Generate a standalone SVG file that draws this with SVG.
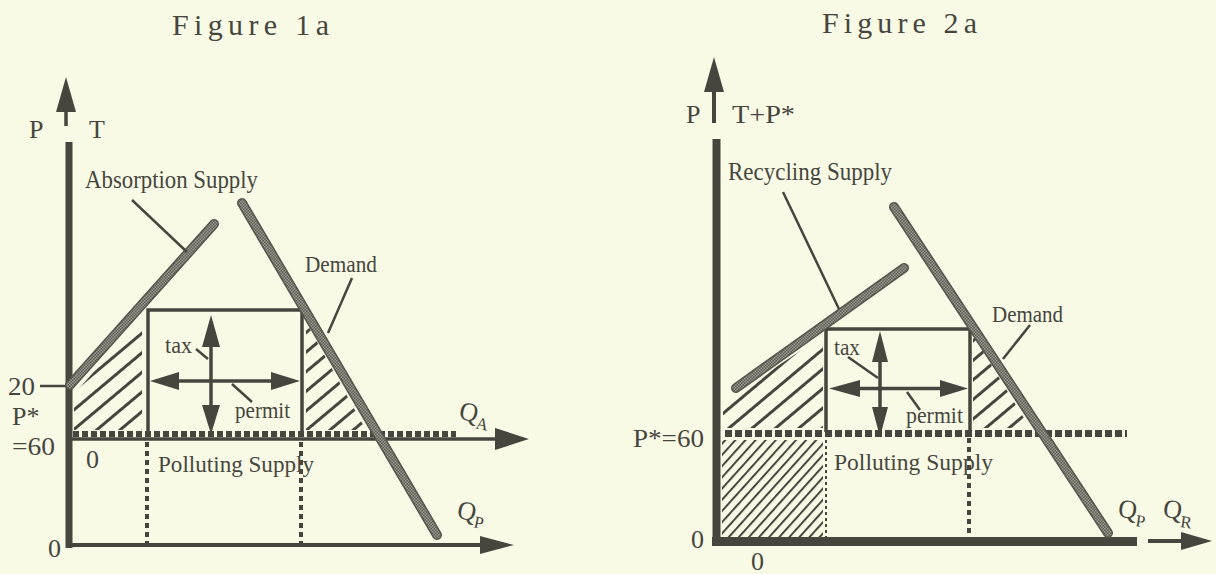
<svg xmlns="http://www.w3.org/2000/svg" width="1216" height="574" viewBox="0 0 1216 574">
<style>
.t{font-family:"Liberation Serif","Times New Roman",serif;fill:#46463e}
.ttl{font-size:30px}
.lb{font-size:26px}
.sm{font-size:23px}
.ax{stroke:#46463e;fill:none}
.ink{fill:#46463e}
.ld{stroke:#46463e;stroke-width:2.5;fill:none}
.curveo{stroke:#55554d;stroke-width:10;stroke-linecap:round;fill:none}
.curvei{stroke:url(#chk);stroke-width:7;stroke-linecap:round;fill:none}
</style>
<defs>
<pattern id="chk" width="3" height="3" patternUnits="userSpaceOnUse"><rect width="3" height="3" fill="#5a5a52"/><rect width="1.5" height="1.5" fill="#9d9d94"/><rect x="1.5" y="1.5" width="1.5" height="1.5" fill="#9d9d94"/></pattern>
<pattern id="hatch" width="20" height="15" patternUnits="userSpaceOnUse" patternTransform="rotate(-40)"><rect width="20" height="3" fill="#46463e"/></pattern>
<pattern id="hatch2" width="10" height="7.5" patternUnits="userSpaceOnUse" patternTransform="rotate(-48)"><rect width="10" height="2" fill="#46463e"/></pattern>
</defs>
<rect width="1216" height="574" fill="#f9fae6"/>

<!-- Figure 1a -->
<g id="fig1a">
<text class="t ttl" x="172" y="35" textLength="157" lengthAdjust="spacing">Figure 1a</text>
<g id="f1-hatch">
<polygon points="74,430 74,394 142,318 142,430" fill="url(#hatch)"/>
<polygon points="306,322 306,430 366,430" fill="url(#hatch)"/>
</g>
<g id="f1-axes">
<line class="ax" x1="66" y1="110" x2="66" y2="126" stroke-width="3.5"/>
<polygon class="ink" points="56,112 66,77 76,112"/>
<line class="ax" x1="69" y1="142" x2="69" y2="548" stroke-width="7"/>
<line class="ax" x1="66" y1="439" x2="498" y2="439" stroke-width="3.5"/>
<polygon class="ink" points="495,428 529,439 495,450"/>
<line class="ax" x1="73" y1="434" x2="456" y2="434" stroke-width="6" stroke-dasharray="6 3"/>
<line class="ax" x1="66" y1="545" x2="484" y2="545" stroke-width="4"/>
<polygon class="ink" points="480,536 514,545 480,554"/>
<line class="ax" x1="40" y1="386" x2="67" y2="386" stroke-width="2.5"/>
<line class="ax" x1="147" y1="442" x2="147" y2="546" stroke-width="4" stroke-dasharray="5 4"/>
<line class="ax" x1="301" y1="442" x2="301" y2="546" stroke-width="4" stroke-dasharray="5 4"/>
</g>
<g id="f1-box">
<path class="ax" d="M148,436 V310 H302 V436" stroke-width="3.5"/>
<line class="ax" x1="211" y1="345" x2="211" y2="407" stroke-width="3.5"/>
<polygon class="ink" points="202,347 211,315 220,347"/>
<polygon class="ink" points="202,405 211,434 220,405"/>
<line class="ax" x1="176" y1="381" x2="274" y2="381" stroke-width="3.5"/>
<polygon class="ink" points="150,381 179,372 179,390"/>
<polygon class="ink" points="300,381 271,372 271,390"/>
</g>
<g id="f1-supply">
<line class="curveo" x1="70" y1="385" x2="214" y2="224"/>
<line class="curvei" x1="70" y1="385" x2="214" y2="224"/>
</g>
<g id="f1-demand">
<line class="curveo" x1="242" y1="203" x2="437" y2="535"/>
<line class="curvei" x1="242" y1="203" x2="437" y2="535"/>
</g>
<g id="f1-leaders">
<line class="ld" x1="132" y1="200" x2="187" y2="252"/>
<line class="ld" x1="352" y1="278" x2="328" y2="333"/>
<line class="ld" x1="196" y1="349" x2="208" y2="359"/>
<line class="ld" x1="232" y1="384" x2="252" y2="402"/>
</g>
<g id="f1-labels">
<text class="t lb" x="29" y="138">P</text>
<text class="t lb" x="89" y="138">T</text>
<text class="t lb" x="85" y="188" textLength="173" lengthAdjust="spacingAndGlyphs">Absorption Supply</text>
<text class="t sm" x="305" y="272" textLength="72" lengthAdjust="spacingAndGlyphs">Demand</text>
<text class="t sm" x="165" y="353" textLength="27" lengthAdjust="spacingAndGlyphs">tax</text>
<text class="t sm" x="235" y="418" textLength="55" lengthAdjust="spacingAndGlyphs">permit</text>
<text class="t lb" x="8" y="395" textLength="27" lengthAdjust="spacingAndGlyphs">20</text>
<text class="t lb" x="12" y="425">P*</text>
<text class="t lb" x="12" y="455" textLength="43" lengthAdjust="spacingAndGlyphs">=60</text>
<text class="t lb" x="86" y="468">0</text>
<text class="t lb" x="48" y="557">0</text>
<text class="t sm" x="158" y="472" textLength="156" lengthAdjust="spacingAndGlyphs">Polluting Supply</text>
<text class="t lb" x="459" y="421" transform="rotate(12 470 415)">Q<tspan font-size="17" dy="6">A</tspan></text>
<text class="t lb" x="457" y="520" transform="rotate(12 468 514)">Q<tspan font-size="17" dy="6">P</tspan></text>
</g>
</g>

<!-- Figure 2a -->
<g id="fig2a">
<text class="t ttl" x="822" y="33" textLength="155" lengthAdjust="spacing">Figure 2a</text>
<g id="f2-hatch">
<polygon points="723,428 723,402 823,336 823,428" fill="url(#hatch)"/>
<polygon points="973,335 973,428 1030,428" fill="url(#hatch)"/>
<polygon points="722,440 823,440 823,537 722,537" fill="url(#hatch2)"/>
</g>
<g id="f2-axes">
<line class="ax" x1="714" y1="90" x2="714" y2="123" stroke-width="4"/>
<polygon class="ink" points="704,92 714,57 724,92"/>
<line class="ax" x1="716.5" y1="139" x2="716.5" y2="546" stroke-width="8"/>
<line class="ax" x1="712" y1="541.5" x2="1137" y2="541.5" stroke-width="9"/>
<line class="ax" x1="1148" y1="541" x2="1184" y2="541" stroke-width="4"/>
<polygon class="ink" points="1181,532 1212,541 1181,550"/>
<line class="ax" x1="725" y1="433.5" x2="1127" y2="433.5" stroke-width="7" stroke-dasharray="7 3"/>
<line class="ax" x1="826" y1="440" x2="826" y2="540" stroke-width="2" stroke-dasharray="3 3"/>
<line class="ax" x1="969" y1="438" x2="969" y2="534" stroke-width="4" stroke-dasharray="5 4"/>
</g>
<g id="f2-box">
<path class="ax" d="M826,432 V329 H970 V432" stroke-width="3.5"/>
<line class="ax" x1="880" y1="360" x2="880" y2="409" stroke-width="3.5"/>
<polygon class="ink" points="872,362 880,331 888,362"/>
<polygon class="ink" points="872,407 880,437 888,407"/>
<line class="ax" x1="858" y1="388.5" x2="942" y2="388.5" stroke-width="3.5"/>
<polygon class="ink" points="829,388.5 860,380 860,397"/>
<polygon class="ink" points="968,388.5 940,380 940,397"/>
</g>
<g id="f2-supply">
<line class="curveo" x1="736" y1="388" x2="904" y2="268"/>
<line class="curvei" x1="736" y1="388" x2="904" y2="268"/>
</g>
<g id="f2-demand">
<line class="curveo" x1="894" y1="207" x2="1108" y2="533"/>
<line class="curvei" x1="894" y1="207" x2="1108" y2="533"/>
</g>
<g id="f2-leaders">
<line class="ld" x1="783" y1="192" x2="839" y2="309"/>
<line class="ld" x1="1030" y1="325" x2="1003" y2="359"/>
<line class="ld" x1="848" y1="357" x2="878" y2="378"/>
<line class="ld" x1="907" y1="392" x2="920" y2="410"/>
</g>
<g id="f2-labels">
<text class="t lb" x="686" y="123">P</text>
<text class="t lb" x="732" y="123" textLength="63" lengthAdjust="spacingAndGlyphs">T+P*</text>
<text class="t lb" x="728" y="180" textLength="164" lengthAdjust="spacingAndGlyphs">Recycling Supply</text>
<text class="t sm" x="992" y="322" textLength="71" lengthAdjust="spacingAndGlyphs">Demand</text>
<text class="t sm" x="834" y="355" textLength="26" lengthAdjust="spacingAndGlyphs">tax</text>
<text class="t sm" x="906" y="423" textLength="57" lengthAdjust="spacingAndGlyphs">permit</text>
<text class="t sm" x="834" y="470" textLength="159" lengthAdjust="spacingAndGlyphs">Polluting Supply</text>
<text class="t lb" x="633" y="447" textLength="71" lengthAdjust="spacingAndGlyphs">P*=60</text>
<text class="t lb" x="691" y="548">0</text>
<text class="t lb" x="751" y="570">0</text>
<text class="t lb" x="1118" y="518" transform="rotate(8 1128 512)">Q<tspan font-size="17" dy="7">P</tspan></text>
<text class="t lb" x="1163" y="518" transform="rotate(8 1173 512)">Q<tspan font-size="17" dy="8">R</tspan></text>
</g>
</g>
</svg>
